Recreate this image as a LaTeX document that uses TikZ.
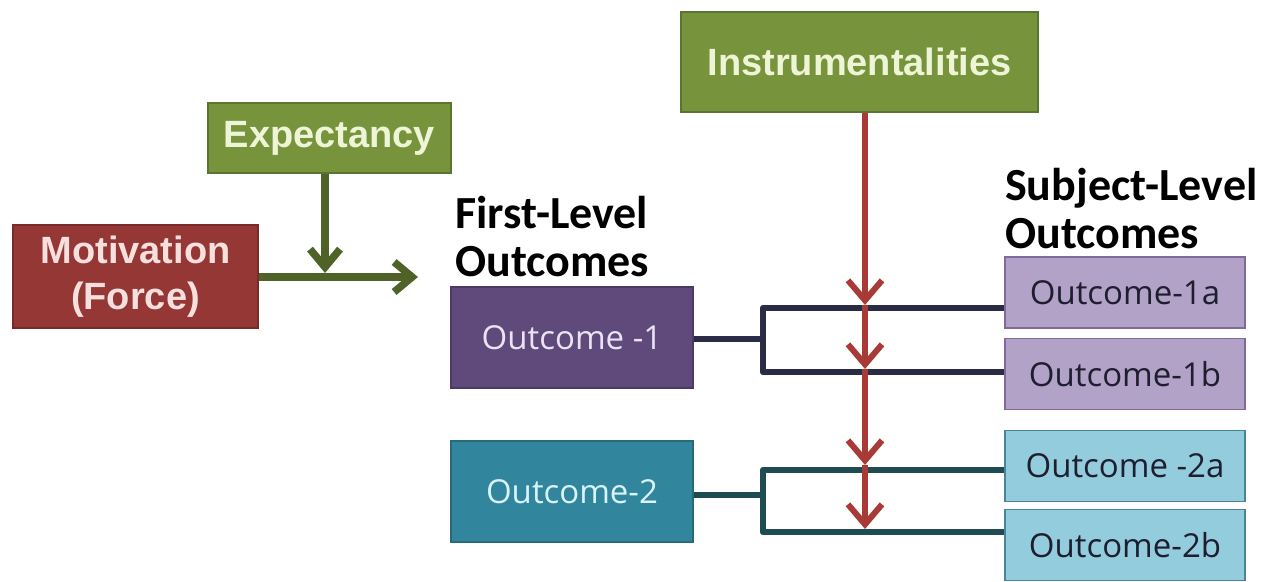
\documentclass[tikz,border=0pt]{standalone}
\usepackage{fontspec}
\setmainfont{Liberation Sans}
\newfontfamily\calib{Carlito}
\newfontfamily\opens{Open Sans}
\usetikzlibrary{arrows.meta}
\definecolor{olivefill}{HTML}{77933C}
\definecolor{oliveline}{HTML}{5A7530}
\definecolor{creamtext}{HTML}{EEF5D6}
\definecolor{redfill}{HTML}{953735}
\definecolor{redline}{HTML}{7A2A28}
\definecolor{pinktext}{HTML}{F6E0DE}
\definecolor{greenarrow}{HTML}{4F6228}
\definecolor{redarrow}{HTML}{A93A35}
\definecolor{purplefill}{HTML}{604A7B}
\definecolor{purpleline}{HTML}{4B3A63}
\definecolor{lilactext}{HTML}{EBE3F3}
\definecolor{tealfill}{HTML}{31859C}
\definecolor{tealline}{HTML}{276A7C}
\definecolor{cyantext}{HTML}{D8F4F8}
\definecolor{lavfill}{HTML}{B3A2C7}
\definecolor{lavline}{HTML}{7F6A99}
\definecolor{lbluefill}{HTML}{93CDDD}
\definecolor{lblueline}{HTML}{4A8597}
\definecolor{navyline}{HTML}{2A2C45}
\definecolor{dtealline}{HTML}{1F4C52}
\definecolor{darktext}{HTML}{1E1E30}
\tikzset{
  box/.style={draw, line width=1.5pt, inner sep=0pt, anchor=center, align=center},
  headbox/.style={box, font=\bfseries\fontsize{38}{46}\selectfont},
  firstbox/.style={box, minimum width=242, minimum height=101, font=\opens\fontsize{33}{36}\selectfont},
  subbox/.style={box, minimum width=240, minimum height=71, text=darktext, font=\opens\fontsize{33}{36}\selectfont},
  label/.style={anchor=north west, align=left, inner sep=0pt, font=\calib\bfseries\fontsize{46}{48}\selectfont},
  garrow/.style={draw=greenarrow, line width=7.5pt, -{Straight Barb[length=18pt, width=30pt, line width=7.5pt]}},
  rarrow/.style={draw=redarrow, line width=6pt, -{Straight Barb[length=20pt, width=34pt, line width=6pt]}},
  bracket1/.style={draw=navyline, line width=6.5pt, line join=round},
  bracket2/.style={draw=dtealline, line width=6.5pt, line join=round}
}
\begin{document}
\begin{tikzpicture}[x=1pt,y=-1pt]
\useasboundingbox[fill=white] (0,0) rectangle (1277,581);

% header boxes
\node[headbox, fill=olivefill, draw=oliveline, text=creamtext, minimum width=243, minimum height=70] (exp) at (329.5,138) {Expectancy};
\node[headbox, fill=redfill, draw=redline, text=pinktext, minimum width=245, minimum height=103] (mot) at (135.5,276.5) {Motivation\\(Force)};
\node[headbox, fill=olivefill, draw=oliveline, text=creamtext, minimum width=357, minimum height=100] (ins) at (859.5,62) {Instrumentalities};

% labels
\node[label] (fl) at (455,196) {First-Level\\Outcomes};
\node[label] (sl) at (1005,168) {Subject-Level\\Outcomes};

% first-level outcome boxes
\node[firstbox, fill=purplefill, draw=purpleline, text=lilactext] (o1) at (572,337.5) {Outcome -1};
\node[firstbox, fill=tealfill, draw=tealline, text=cyantext] (o2) at (572,491.5) {Outcome-2};

% subject-level outcome boxes
\node[subbox, fill=lavfill, draw=lavline] (o1a) at (1125,292.5) {Outcome-1a};
\node[subbox, fill=lavfill, draw=lavline] (o1b) at (1125,374) {Outcome-1b};
\node[subbox, fill=lbluefill, draw=lblueline] (o2a) at (1125,466) {Outcome -2a};
\node[subbox, fill=lbluefill, draw=lblueline] (o2b) at (1125,545) {Outcome-2b};

% green arrows
\coordinate (gend) at (418,277);
\coordinate (gtip) at (325,273);
\draw[garrow] (mot.east |- gend) -- (gend);
\draw[garrow] (gtip |- exp.south) -- (gtip);

% brackets
\coordinate (b1) at (763,339);
\coordinate (b2) at (763,495);
\draw[bracket1] (o1.east |- b1) -- (b1);
\draw[bracket1] (o1a.west |- 0,308) -| (b1) |- (o1b.west |- 0,372);
\draw[bracket2] (o2.east |- b2) -- (b2);
\draw[bracket2] (o2a.west |- 0,470) -| (b2) |- (o2b.west |- 0,532);

% red arrows
\coordinate (rx) at (865,0);
\coordinate (r0) at (rx |- ins.south);
\coordinate (r1) at (865,305);
\coordinate (r2) at (865,369);
\coordinate (r3) at (865,465);
\coordinate (r4) at (865,529);
\draw[rarrow] (r0) -- (r1);
\draw[rarrow] (r1) -- (r2);
\draw[rarrow] (r2) -- (r3);
\draw[rarrow] (r3) -- (r4);
\end{tikzpicture}
\end{document}
